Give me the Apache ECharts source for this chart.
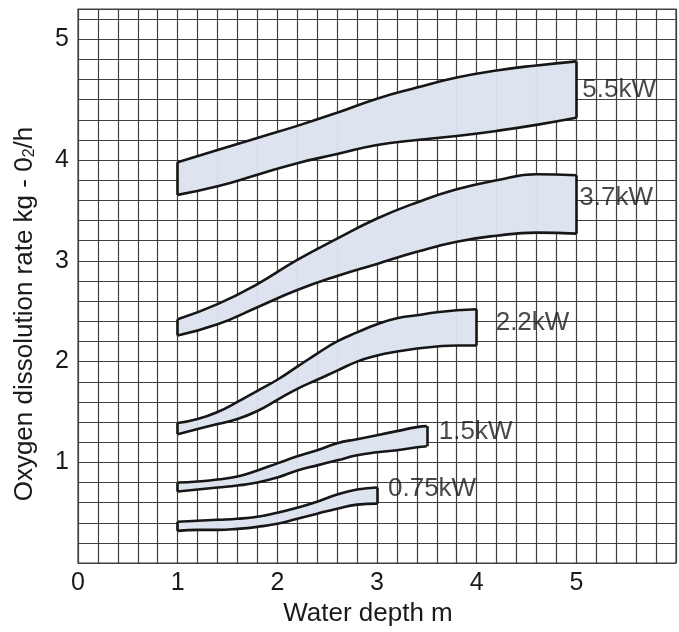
<!DOCTYPE html>
<html>
<head>
    <meta charset="utf-8">
    <title>Oxygen dissolution rate</title>
    <style>
        html, body { margin: 0; padding: 0; background: #fff; }
        #container { width: 679px; height: 632px; }
    </style>
</head>
<body>
<div id="container"></div>
<script src="https://cdn.jsdelivr.net/npm/echarts@6/dist/echarts.min.js"></script>
<script type="text/javascript">
    // water depth (m) at which the band edges were read
    var depth10 = [1.0, 1.4, 1.8, 2.2, 2.6, 3.0, 3.4, 3.8, 4.2, 4.6, 5.0];
    var depth4 = [1.0, 1.2, 1.4, 1.6, 1.8, 2.0, 2.2, 2.4, 2.6, 2.8, 3.0, 3.2, 3.4, 3.6, 3.8, 4.0];
    var depth35 = [1.0, 1.2, 1.4, 1.6, 1.8, 2.0, 2.2, 2.4, 2.6, 2.8, 3.0, 3.2, 3.4, 3.5];
    var depth3 = [1.0, 1.2, 1.4, 1.6, 1.8, 2.0, 2.2, 2.4, 2.6, 2.8, 3.0];

    // kg O2/h, upper and lower edge of each band
    var kw55Upper = [3.98, 4.10, 4.22, 4.34, 4.47, 4.61, 4.72, 4.82, 4.89, 4.94, 4.98];
    var kw55Lower = [3.655, 3.74, 3.855, 3.97, 4.06, 4.15, 4.20, 4.24, 4.29, 4.35, 4.42];
    var kw37Upper = [2.42, 2.57, 2.77, 3.01, 3.22, 3.42, 3.58, 3.71, 3.80, 3.86, 3.85];
    var kw37Lower = [2.26, 2.37, 2.54, 2.71, 2.85, 2.97, 3.09, 3.19, 3.25, 3.28, 3.27];
    var kw22Upper = [1.39, 1.43, 1.50, 1.60, 1.71, 1.82, 1.95, 2.08, 2.20, 2.29, 2.37, 2.43, 2.46, 2.49, 2.51, 2.52];
    var kw22Lower = [1.28, 1.33, 1.38, 1.43, 1.51, 1.62, 1.73, 1.82, 1.91, 2.00, 2.06, 2.10, 2.13, 2.15, 2.16, 2.16];
    var kw15Upper = [0.80, 0.81, 0.83, 0.86, 0.92, 0.99, 1.06, 1.12, 1.19, 1.23, 1.27, 1.31, 1.35, 1.36];
    var kw15Lower = [0.71, 0.73, 0.75, 0.77, 0.80, 0.85, 0.92, 0.97, 1.02, 1.07, 1.10, 1.12, 1.15, 1.16];
    var kw075Upper = [0.41, 0.42, 0.43, 0.44, 0.46, 0.50, 0.55, 0.61, 0.68, 0.73, 0.75];
    var kw075Lower = [0.32, 0.33, 0.33, 0.34, 0.36, 0.39, 0.44, 0.49, 0.54, 0.58, 0.59];

    var bandNames = ['5.5kW', '3.7kW', '2.2kW', '1.5kW', '0.75kW'];

    // tick labels (the "5" sits one grid step high in the source drawing)
    var xTickValues = [0, 1, 2, 3, 4, 5];
    var xTickLabels = ['0', '1', '2', '3', '4', '5'];
    var yTickValues = [1, 2, 3, 4, 5.2];
    var yTickLabels = ['1', '2', '3', '4', '5'];

    var bands = [
        {name: bandNames[0], x: depth10, up: kw55Upper, lo: kw55Lower, off: [6, 0]},
        {name: bandNames[1], x: depth10, up: kw37Upper, lo: kw37Lower, off: [3, -7]},
        {name: bandNames[2], x: depth4, up: kw22Upper, lo: kw22Lower, off: [19, -5]},
        {name: bandNames[3], x: depth35, up: kw15Upper, lo: kw15Lower, off: [12, -4]},
        {name: bandNames[4], x: depth3, up: kw075Upper, lo: kw075Lower, off: [11, -7]}
    ];

    var INK = '#161616';
    var FILL = '#dde4f0';
    var GRIDC = '#404040';
    var FONT = 'Liberation Sans, Arial, Helvetica, sans-serif';
    var SMOOTH = 0.5;
    var EDGE_W = 2.6;

    function findLabel(v, vals, labels) {
        for (var i = 0; i < vals.length; i++) {
            if (Math.abs(v - vals[i]) < 1e-6) return labels[i];
        }
        return '';
    }

    var series = [];
    bands.forEach(function (b, k) {
        var n = b.x.length;
        // fill between the two edges, one strip per pair of readings
        series.push({
            type: 'custom',
            silent: true,
            data: b.x.map(function (x, i) { return [x, b.lo[i], b.up[i]]; }),
            encode: {x: 0, y: [1, 2]},
            renderItem: function (params, api) {
                var i = params.dataIndex;
                if (i >= n - 1) return null;
                var pts = [
                    api.coord([b.x[i], b.lo[i]]),
                    api.coord([b.x[i + 1], b.lo[i + 1]]),
                    api.coord([b.x[i + 1], b.up[i + 1]]),
                    api.coord([b.x[i], b.up[i]])
                ];
                return {
                    type: 'polygon',
                    shape: {points: pts},
                    style: {fill: FILL, stroke: FILL, lineWidth: 0.6}
                };
            },
            z: 1
        });
        series.push({
            type: 'line',
            data: b.x.map(function (x, i) { return [x, b.lo[i]]; }),
            smooth: SMOOTH,
            symbol: 'none',
            lineStyle: {color: INK, width: EDGE_W, join: 'round'},
            z: 3,
            markLine: {
                silent: true,
                symbol: 'none',
                label: {show: false},
                lineStyle: {color: INK, width: EDGE_W, type: 'solid'},
                data: [
                    [{coord: [b.x[0], b.lo[0]]}, {coord: [b.x[0], b.up[0]]}],
                    [{coord: [b.x[n - 1], b.lo[n - 1]]}, {coord: [b.x[n - 1], b.up[n - 1]]}]
                ]
            }
        });
        series.push({
            type: 'line',
            data: b.x.map(function (x, i) { return [x, b.up[i]]; }),
            smooth: SMOOTH,
            symbol: 'none',
            lineStyle: {color: INK, width: EDGE_W, join: 'round'},
            z: 3
        });
        // band name beside the right end
        series.push({
            type: 'scatter',
            symbolSize: 0,
            silent: true,
            data: [[b.x[n - 1], (b.up[n - 1] + b.lo[n - 1]) / 2]],
            label: {
                show: true,
                position: 'right',
                distance: 0,
                offset: b.off,
                formatter: b.name,
                color: '#1a1a1a',
                fontSize: 26,
                fontFamily: FONT
            },
            z: 5
        });
    });

    var myChart = echarts.init(document.getElementById('container'));

    var option = {
        animation: false,
        backgroundColor: '#fff',
        grid: {
            left: 78,
            right: -4,
            top: 9,
            bottom: 66,
            show: true,
            borderColor: GRIDC,
            borderWidth: 1.2
        },
        xAxis: {
            type: 'value',
            min: 0,
            max: 6,
            interval: 0.2,
            name: 'Water depth m',
            nameLocation: 'middle',
            nameGap: 37,
            nameTextStyle: {color: '#1a1a1a', fontSize: 26, fontFamily: FONT, padding: [0, 18, 0, 0]},
            axisLine: {show: false},
            axisTick: {show: false},
            splitLine: {show: true, lineStyle: {color: GRIDC, width: 1.2}},
            axisLabel: {
                interval: 0,
                margin: 8,
                color: '#1a1a1a',
                fontSize: 25,
                fontFamily: FONT,
                formatter: function (v) { return findLabel(v, xTickValues, xTickLabels); }
            }
        },
        yAxis: {
            type: 'value',
            min: 0,
            max: 5.5,
            interval: 0.2,
            name: '{a|Oxygen dissolution rate kg - 0}{b|2}{a|/h}',
            nameLocation: 'middle',
            nameGap: 40,
            nameTextStyle: {
                color: '#1a1a1a',
                fontFamily: FONT,
                padding: [0, 56, 0, 0],
                rich: {
                    a: {fontSize: 26, color: '#1a1a1a', fontFamily: FONT},
                    b: {fontSize: 16, color: '#1a1a1a', fontFamily: FONT, verticalAlign: 'bottom'}
                }
            },
            axisLine: {show: false},
            axisTick: {show: false},
            splitLine: {show: true, lineStyle: {color: GRIDC, width: 1.2}},
            axisLabel: {
                interval: 0,
                margin: 9,
                color: '#1a1a1a',
                fontSize: 25,
                fontFamily: FONT,
                formatter: function (v) { return findLabel(v, yTickValues, yTickLabels); }
            }
        },
        series: series
    };

    myChart.setOption(option);
</script>
</body>
</html>
